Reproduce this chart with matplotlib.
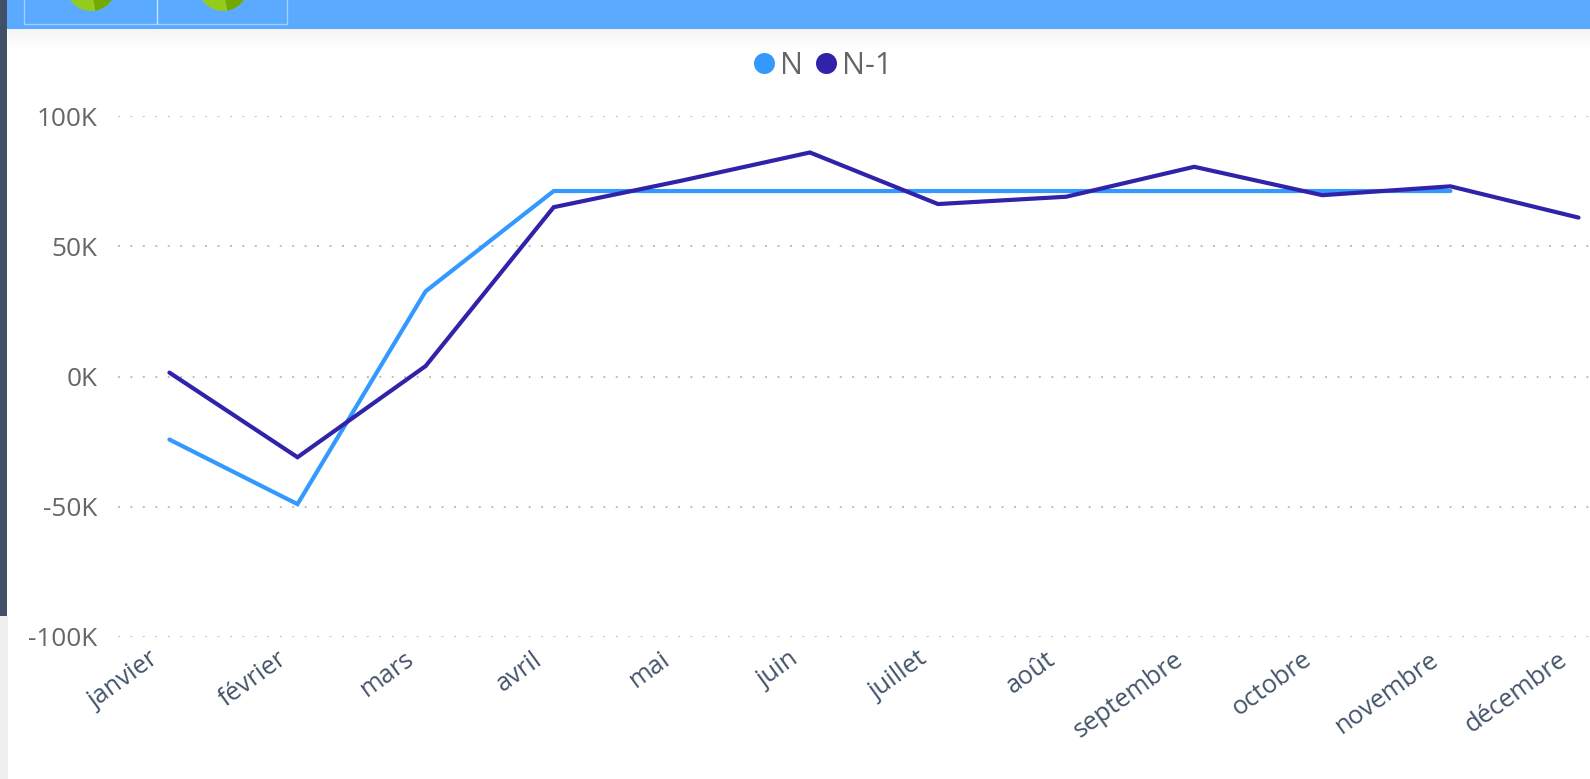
import numpy as np
import matplotlib.pyplot as plt
from matplotlib.patches import Circle, Rectangle, Wedge
from matplotlib.transforms import ScaledTranslation

plt.rcParams['font.family'] = ['Open Sans', 'DejaVu Sans']

months = ['janvier', 'février', 'mars', 'avril', 'mai', 'juin', 'juillet',
          'août', 'septembre', 'octobre', 'novembre', 'décembre']
n_values = [-24.2, -49, 32.7, 71.2, 71.2, 71.2, 71.2, 71.2, 71.2, 71.2, 71.2]
n1_values = [1.5, -31, 4, 65, 75.2, 86, 66.2, 69, 80.5, 69.6, 73, 61]
y_ticks = [-100, -50, 0, 50, 100]
y_labels = ['-100K', '-50K', '0K', '50K', '100K']

W, H = 1590, 779
N_COLOR = '#3399FF'
N1_COLOR = '#3022A9'
BAR_COLOR = '#5AABFF'
TEXT_GREY = '#666666'
AXIS_BLUE = '#44546A'

fig = plt.figure(figsize=(W / 100, H / 100), dpi=100, facecolor='white')

#page decoration, in pixel coords
deco = fig.add_axes([0, 0, 1, 1], zorder=0)
deco.set_xlim(0, W)
deco.set_ylim(H, 0)
deco.axis('off')
deco.add_patch(Rectangle((0, 0), 7, 616, color='#3F5068', lw=0))
deco.add_patch(Rectangle((0, 616), 8, H - 616, color='#F0F0F0', lw=0))
deco.add_patch(Rectangle((7, 0), W - 7, 29, color=BAR_COLOR, lw=0))
shadow = np.linspace(0.955, 1, 64).reshape(-1, 1)
deco.imshow(shadow, extent=(8, W, 50, 29), cmap='gray', vmin=0, vmax=1, aspect='auto')
deco.set_xlim(0, W)
deco.set_ylim(H, 0)

#the two tiles in the header
for cx in [91, 223]:
    deco.add_patch(Circle((cx, -14), 25, color='#94CC1E', lw=0))
    deco.add_patch(Wedge((cx, -14), 25, 30, 80, color='#72A800', lw=0))
for x0, x1 in [(23.5, 157), (157, 287)]:
    deco.add_patch(Rectangle((x0, -5), x1 - x0, 28.5, fill=False, ec='white', alpha=0.45, lw=0.9))

#main chart
ax = fig.add_axes([118 / W, 1 - 637 / H, (W - 118) / W, (637 - 116) / H], zorder=1)
ax.patch.set_alpha(0)
ax.set_xlim((118 - 169.4) / 128.1, (W - 169.4) / 128.1)
ax.set_ylim(-100, 100)

ax.plot(range(len(n_values)), n_values, color=N_COLOR, lw=3, solid_joinstyle='miter',
        solid_capstyle='round', zorder=3)
ax.plot(range(len(n1_values)), n1_values, color=N1_COLOR, lw=3, solid_joinstyle='miter',
        solid_capstyle='round', zorder=4)

ax.set_yticks(y_ticks)
ax.set_yticklabels(y_labels, fontsize=18.8, color=TEXT_GREY)
ax.set_xticks(range(len(months)))
ax.set_xticklabels(months, fontsize=18.4, color=AXIS_BLUE, rotation=36, ha='right', va='top',
                   rotation_mode='anchor')
ax.tick_params(axis='both', length=0)
ax.tick_params(axis='y', pad=15)
ax.tick_params(axis='x', pad=7)
#labels end well left of their tick in the reference, tick_params resets this so keep it after
shift = ScaledTranslation(-21 / 100, 0, fig.dpi_scale_trans)
for label in ax.get_xticklabels():
    label.set_transform(label.get_transform() + shift)
ax.grid(axis='y', color='#BEBEBE', lw=1.4, linestyle=(0, (1, 5.4)), zorder=1)
ax.set_axisbelow(True)
for s in ax.spines.values():
    s.set_visible(False)

#legend
deco.add_patch(Circle((764.5, 63.5), 10.5, color=N_COLOR, lw=0))
deco.add_patch(Circle((826.5, 63.5), 10.5, color=N1_COLOR, lw=0))
deco.text(780, 66, 'N', fontsize=22, color=TEXT_GREY, va='center', ha='left')
deco.text(842, 66, 'N-1', fontsize=22, color=TEXT_GREY, va='center', ha='left')

fig.savefig('out.png', dpi=100)
